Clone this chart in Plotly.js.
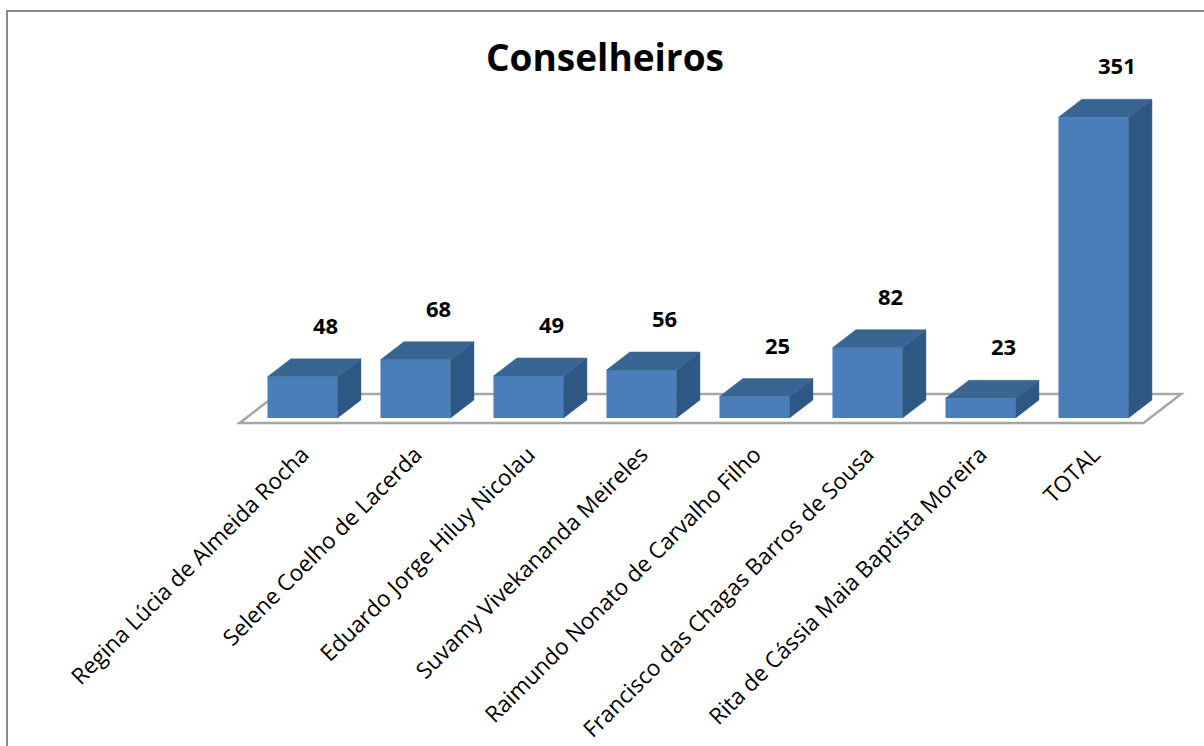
<!DOCTYPE html>
<html>
<head>
<meta charset="utf-8">
<script src="https://cdn.plot.ly/plotly-3.0.1.min.js"></script>
<style>
  html, body { margin: 0; padding: 0; background: #ffffff; }
  #chart { width: 1204px; height: 746px; position: absolute; left: 0; top: 0; }
  #frame { position: absolute; left: 6px; top: 10px; width: 1300px; height: 800px;
           border-top: 2px solid #8a8a8a; border-left: 2px solid #8a8a8a; pointer-events: none; }
</style>
</head>
<body>
<div id="chart"></div>
<div id="frame"></div>
<script>
// ---- data ----
const categories = [
  "Regina Lúcia de Almeida Rocha",
  "Selene Coelho de Lacerda",
  "Eduardo Jorge Hiluy Nicolau",
  "Suvamy Vivekananda Meireles",
  "Raimundo Nonato de Carvalho Filho",
  "Francisco das Chagas Barros de Sousa",
  "Rita de Cássia Maia Baptista Moreira",
  "TOTAL"
];
const values = [48, 68, 49, 56, 25, 82, 23, 351];
const chartTitle = "Conselheiros";

// ---- layout geometry (pixels) ----
const W = 1204, H = 746;
const plotLeft = 230, plotRight = 1190, plotTop = 90, plotBottom = 430;
const firstCenterPx = 302.5, pxPerCat = 113;   // x scale
const zeroPx = 418, pxPerUnit = 0.857;         // y scale
const barWidth = 0.62;                          // in category units
const depth = 18, slant = 1.3;                  // 3D depth (px vertical), horizontal per vertical
const floorFront = -5, floorBack = 24;

const xr0 = (plotLeft - firstCenterPx) / pxPerCat;
const xr1 = (plotRight - firstCenterPx) / pxPerCat;
const yr1 = (zeroPx - plotTop) / pxPerUnit;
const yr0 = (zeroPx - plotBottom) / pxPerUnit;

// project a point pushed back by t px of depth
function P(x, v, t) {
  return [x + t * slant / pxPerCat, v + t / pxPerUnit];
}
function polyTrace(polys, color, line) {
  const xs = [], ys = [];
  polys.forEach(pts => {
    pts.forEach(p => { xs.push(p[0]); ys.push(p[1]); });
    xs.push(pts[0][0]); ys.push(pts[0][1]);
    xs.push(null); ys.push(null);
  });
  return {
    type: 'scatter', mode: 'lines', x: xs, y: ys, fill: 'toself',
    fillcolor: color, line: line || {width: 0.5, color: color},
    hoverinfo: 'skip', showlegend: false, connectgaps: false
  };
}

const idx = categories.map((c, i) => i);
const n = categories.length;
const hw = barWidth / 2;

// floor (layout shape beneath the traces)
const floorPoly = [
  P(-0.5, 0, floorFront), P(n - 0.5, 0, floorFront),
  P(n - 0.5, 0, floorBack), P(-0.5, 0, floorBack)
];
const floorPath = 'M ' + floorPoly.map(p => p[0] + ',' + p[1]).join(' L ') + ' Z';

// top faces and side faces
const tops = values.map((v, i) => [P(i - hw, v, 0), P(i + hw, v, 0), P(i + hw, v, depth), P(i - hw, v, depth)]);
const sides = values.map((v, i) => [P(i + hw, 0, 0), P(i + hw, v, 0), P(i + hw, v, depth), P(i + hw, 0, depth)]);

const frontTrace = {
  type: 'bar', x: idx, y: values, width: barWidth,
  marker: {color: '#4a7ebb', line: {width: 0}},
  hoverinfo: 'skip', showlegend: false
};
const sideTrace = polyTrace(sides, '#2d5883');
const topTrace = polyTrace(tops, '#386591');

const annotations = values.map((v, i) => {
  const p = P(i, v, depth);
  return {
    x: p[0], y: p[1], xref: 'x', yref: 'y', text: '<b>' + v + '</b>',
    showarrow: false, xanchor: 'center', yanchor: 'bottom', yshift: 17,
    font: {family: 'Open Sans, sans-serif', size: 22, color: '#000000'}
  };
});

const layout = {
  width: W, height: H,
  paper_bgcolor: '#ffffff', plot_bgcolor: 'rgba(0,0,0,0)',
  margin: {l: plotLeft, r: W - plotRight, t: plotTop, b: H - plotBottom, pad: 0},
  title: {
    text: '<b>' + chartTitle + '</b>',
    x: 605 / W, xref: 'container', xanchor: 'center',
    y: 1 - 58 / H, yref: 'container', yanchor: 'middle',
    font: {family: 'Open Sans, sans-serif', size: 37, color: '#000000'}
  },
  xaxis: {
    range: [xr0, xr1], tickvals: idx, ticktext: categories, tickangle: -45,
    showgrid: false, zeroline: false, showline: false, ticks: '',
    ticklabelstandoff: 6,
    tickfont: {family: 'Open Sans, sans-serif', size: 22.5, color: '#000000'},
    fixedrange: true
  },
  yaxis: {
    range: [yr0, yr1], visible: false, showgrid: false, zeroline: false, fixedrange: true
  },
  shapes: [{
    type: 'path', xref: 'x', yref: 'y', layer: 'below', path: floorPath,
    fillcolor: '#ffffff', line: {color: '#a6a6a6', width: 2.5}
  }],
  annotations: annotations,
  barmode: 'overlay',
  showlegend: false
};

Plotly.newPlot('chart', [frontTrace, sideTrace, topTrace], layout,
  {displayModeBar: false, staticPlot: true});
</script>
</body>
</html>
